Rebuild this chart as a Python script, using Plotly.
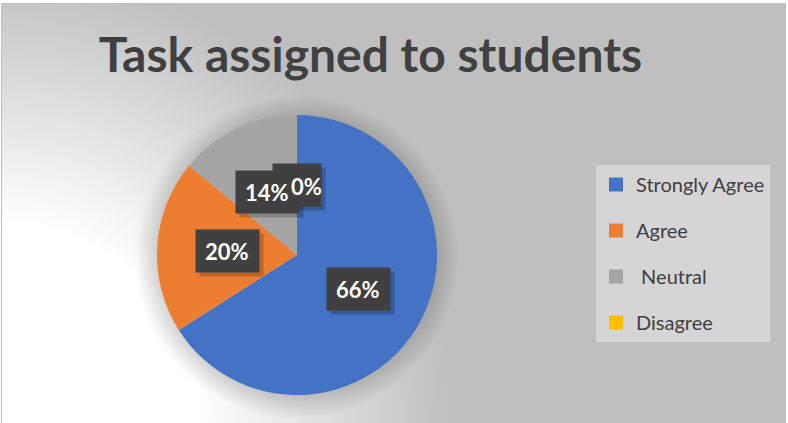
import base64
import math
import plotly.graph_objects as go

# data
labels = ["Strongly Agree", "Agree", "\u00a0Neutral", "Disagree"]
values = [66, 20, 14, 0]
pct_text = ["66%", "20%", "14%", "0%"]
colors = ["#4472C4", "#ED7D31", "#A5A5A5", "#FFC000"]

W, H = 788, 423
# pie placement (pixels)
PCX, PCY, PR = 297, 255, 140

# background: excel-like gradient + soft shadow round the pie
svg = f"""<svg xmlns="http://www.w3.org/2000/svg" width="{W}" height="{H}" viewBox="0 0 {W} {H}">
<defs>
<radialGradient id="bg" gradientUnits="userSpaceOnUse" cx="0" cy="{H}" r="450">
<stop offset="0.44" stop-color="#ffffff"/>
<stop offset="1" stop-color="#bfbfbf"/>
</radialGradient>
<radialGradient id="sh" gradientUnits="userSpaceOnUse" cx="{PCX}" cy="{PCY + 2}" r="{PR + 22}">
<stop offset="0.86" stop-color="#000000" stop-opacity="0.16"/>
<stop offset="1" stop-color="#000000" stop-opacity="0"/>
</radialGradient>
</defs>
<rect x="0" y="0" width="{W}" height="{H}" fill="#ffffff"/>
<rect x="1.5" y="3.5" width="{W - 4}" height="{H - 3}" fill="url(#bg)" stroke="#c0c0c0" stroke-width="1"/>
<circle cx="{PCX}" cy="{PCY + 2}" r="{PR + 22}" fill="url(#sh)"/>
</svg>"""
bg_uri = "data:image/svg+xml;base64," + base64.b64encode(svg.encode()).decode()

dom_x = [(PCX - PR) / W, (PCX + PR) / W]
dom_y = [1 - (PCY + PR) / H, 1 - (PCY - PR) / H]

fig = go.Figure()
fig.add_trace(go.Pie(
    labels=labels,
    values=values,
    sort=False,
    direction="clockwise",
    rotation=0,
    textinfo="none",
    showlegend=False,
    marker=dict(colors=colors, line=dict(width=0)),
    domain=dict(x=dom_x, y=dom_y),
    hovertemplate="%{label}: %{percent}<extra></extra>",
))

# legend entries (square swatches, spaced like the excel legend)
for lab, col in zip(labels, colors):
    fig.add_trace(go.Scatter(
        x=[None], y=[None], mode="markers", name=lab, legendgroup=lab,
        marker=dict(symbol="square", size=14, color=col),
    ))

# data labels: dark boxes at half radius on each slice's middle angle
cx = (dom_x[0] + dom_x[1]) / 2
cy = (dom_y[0] + dom_y[1]) / 2
rx = PR / W
ry = PR / H
total = sum(values)
cum = 0
shadows, boxes, texts = [], [], []
for v, t in zip(values, pct_text):
    mid = (cum + v / 2) / total * 2 * math.pi
    cum += v
    ax = cx + 0.5 * rx * math.sin(mid)
    ay = cy + 0.5 * ry * math.cos(mid)
    bw = 15 * len(t)
    common = dict(x=ax, y=ay, xref="paper", yref="paper", showarrow=False,
                  xanchor="center", yanchor="middle")
    shadows.append(dict(common, text=" ", width=bw, height=24, borderpad=9,
                        bgcolor="rgba(0,0,0,0.2)", xshift=4, yshift=-4))
    boxes.append(dict(common, text=" ", width=bw, height=24, borderpad=9,
                      bgcolor="#404040"))
    # the zero label sits right-aligned in its box so it clears "14%"
    texts.append(dict(common, text="<b>" + t + "</b>", yshift=-1,
                      xshift=9 if v == 0 else 0,
                      font=dict(family="Lato", size=22, color="#ffffff")))

fig.update_layout(
    width=W, height=H,
    margin=dict(l=0, r=0, t=0, b=0),
    paper_bgcolor="#bfbfbf",
    plot_bgcolor="rgba(0,0,0,0)",
    xaxis=dict(visible=False),
    yaxis=dict(visible=False),
    images=[dict(source=bg_uri, xref="paper", yref="paper", x=0, y=1,
                 sizex=1, sizey=1, sizing="stretch", layer="below",
                 xanchor="left", yanchor="top")],
    title=dict(text="<b>Task assigned to students</b>", x=0.47, xanchor="center",
               y=1 - 55 / H, yanchor="middle",
               font=dict(family="Lato", size=48, color="#404040")),
    legend=dict(x=596 / W, y=1 - 165 / H, xanchor="left", yanchor="top",
                bgcolor="#d5d5d5", traceorder="grouped", tracegroupgap=17,
                font=dict(family="Lato", size=20, color="#404040")),
    annotations=shadows + boxes + texts,
)

fig.write_html("out.html", config={"displayModeBar": False},
               post_script="document.body.style.margin='0';")
